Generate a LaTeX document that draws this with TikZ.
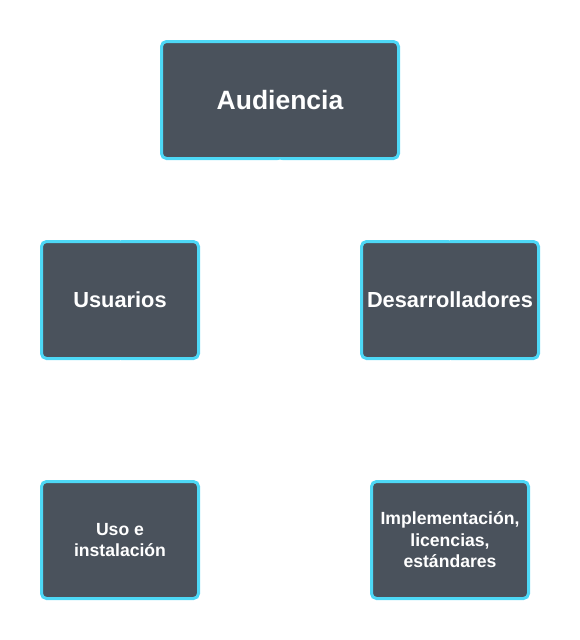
\documentclass[tikz,border=0pt]{standalone}
\usepackage{fontspec}
\setmainfont{Liberation Sans}
\definecolor{boxfill}{HTML}{4A525C}
\definecolor{boxline}{HTML}{4DD8F6}
\tikzset{
  topic/.style={draw=boxline, line width=3pt, fill=boxfill, rounded corners=5pt,
    text=white, font=\bfseries, align=center, inner sep=2pt,
    minimum height=117pt},
  link/.style={draw=white, line width=1pt}
}
\begin{document}
\begin{tikzpicture}[x=1pt,y=-1pt]
        \useasboundingbox (0,0) rectangle (580,640);
        \node[topic, minimum width=237pt, font=\bfseries\fontsize{26.5}{30}\selectfont] (aud) at (280,100) {Audiencia};
        \node[topic, minimum width=157pt, font=\bfseries\fontsize{21.8}{26}\selectfont] (usr) at (120,300) {Usuarios};
        \node[topic, minimum width=177pt, font=\bfseries\fontsize{21.8}{26}\selectfont] (dev) at (450,300) {Desarrolladores};
        \node[topic, minimum width=157pt, font=\bfseries\fontsize{17.6}{21.6}\selectfont] (uso) at (120,540) {Uso e\\instalación};
        \node[topic, minimum width=157pt, font=\bfseries\fontsize{17.6}{21.6}\selectfont] (imp) at (450,540) {Implementación,\\licencias,\\estándares};
        % connectors (white)
        \draw[link] (aud.south) -- (usr.north);
        \draw[link] (aud.south) -- (dev.north);
        \draw[link] (usr.south) -- (uso.north);
        \draw[link] (dev.south) -- (imp.north);
    \end{tikzpicture}
\end{document}
